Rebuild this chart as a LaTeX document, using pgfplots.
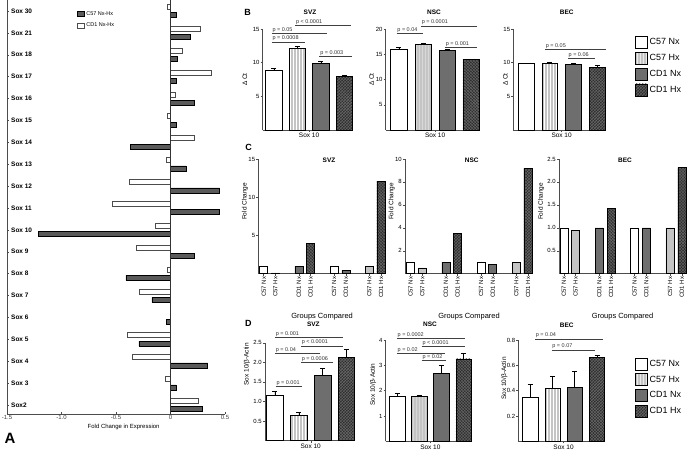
\documentclass[border=0pt]{standalone}
\usepackage{fontspec}
\setmainfont{Liberation Sans}
\usepackage{pgfplots}
\pgfplotsset{compat=1.18}
\usetikzlibrary{patterns}
\definecolor{cHx}{RGB}{196,196,196}
\definecolor{dNx}{RGB}{110,110,110}
\definecolor{dHx}{RGB}{45,45,45}
\definecolor{hatchc}{RGB}{105,105,105}
\definecolor{aDark}{RGB}{90,90,90}
\tikzset{
  s57nx/.style={fill=white, draw=black},
  s57hx/.style={fill=cHx, draw=black, postaction={pattern=vertical lines, pattern color=white}},
  s57hxp/.style={fill=cHx, draw=black},
  sCDnx/.style={fill=dNx, draw=black},
  sCDhx/.style={fill=dHx, draw=black, postaction={pattern=crosshatch, pattern color=hatchc}},
}
\pgfplotsset{
  base/.style={scale only axis, anchor=south west, axis x line*=bottom, axis y line*=left, clip=false,
    tick align=outside, major tick length=2bp,
    tick style={black!70, line width=0.4pt}, axis line style={black!70, line width=0.6pt},
    ticklabel style={font=\fontsize{6}{7}\selectfont, inner sep=1bp},
    label style={font=\fontsize{6.5}{7.5}\selectfont},
    every axis plot/.append style={line width=0.5pt}},
  bd/.style={base, xtick={2.5}, xticklabels={Sox 10}, ymin=0,
    xticklabel style={font=\fontsize{6.5}{7}\selectfont}},
  cp/.style={base, ymin=0, xtick={0,1,3,4,6,7,9,10},
    xticklabels={C57 Nx,C57 Hx,CD1 Nx,CD1 Hx,C57 Nx,CD1 Nx,C57 Hx,CD1 Hx},
    xticklabel style={rotate=90, anchor=east, font=\fontsize{6}{7}\selectfont},
    xlabel={Groups Compared}, xlabel style={at={(axis description cs:0.5,-0.375)}, anchor=center, font=\fontsize{7.5}{8}\selectfont},
    ylabel={Fold Change}},
  cbar/.style={ybar, bar width=8bp, bar shift=0pt},
  biglegend/.style={legend style={draw=none, fill=none, inner sep=0pt, row sep=3.4bp,
      font=\fontsize{9}{10}\selectfont, legend cell align=left},
    legend image code/.code={\draw[##1] (0bp,-6bp) rectangle (12bp,6bp);}},
}
\newcommand{\ebar}[4]{\addplot[ybar, bar width=#1, bar shift=0pt, #2, error bars/.cd, y dir=plus, y explicit,
  error bar style={black, line width=0.5pt}, error mark options={rotate=90, black, mark size=2.5bp, line width=0.5pt}]
  coordinates {#3 +- #4};}
\newcommand{\pline}[4]{\draw[black!75, line width=0.6pt] (axis cs:#1,#3) -- (axis cs:#2,#3)
  node[pos=0, anchor=south west, inner sep=0.6bp, font=\fontsize{5.5}{6}\selectfont, text=black!80] {#4};}
\begin{document}
\begin{tikzpicture}
\path[use as bounding box] (0bp,0bp) rectangle (689bp,451bp);

% ---------------- Panel A
\begin{axis}[base, at={(7bp,37bp)}, width=218bp, height=414bp,
  xmin=-1.5, xmax=0.5, ymin=-0.41, ymax=18.5, tick align=inside,
  xtick={-1.5,-1,-0.5,0,0.5}, xticklabels={-1.5,-1.0,-0.5,0,0.5},
  xticklabel style={text=black!75},
  ytick={0,...,18},
  yticklabels={Sox2,Sox 3,Sox 4,Sox 5,Sox 6,Sox 7,Sox 8,Sox 9,Sox 10,Sox 11,Sox 12,Sox 13,Sox 14,Sox 15,Sox 16,Sox 17,Sox 18,Sox 21,Sox 30},
  yticklabel style={anchor=west, xshift=3bp, font=\bfseries\fontsize{6.5}{7}\selectfont},
  xlabel={Fold Change in Expression}, xlabel style={at={(axis description cs:0.535,-0.031)}, anchor=center, font=\fontsize{6}{7}\selectfont},
  legend style={draw=none, fill=none, at={(axis description cs:0.321,0.978)}, anchor=north west, inner sep=0pt, row sep=2.5bp,
    font=\fontsize{5.5}{6.5}\selectfont, legend cell align=left},
  legend image code/.code={\draw[#1] (0bp,-2.6bp) rectangle (6.7bp,2.6bp);},
]
\addplot[xbar, bar width=5bp, bar shift=-4.2bp, fill=aDark, draw=black] coordinates {
 (0.29,0) (0.05,1) (0.34,2) (-0.29,3) (-0.04,4) (-0.17,5) (-0.41,6) (0.22,7) (-1.21,8) (0.45,9)
 (0.45,10) (0.14,11) (-0.37,12) (0.05,13) (0.22,14) (0.05,15) (0.06,16) (0.18,17) (0.05,18)};
\addplot[xbar, bar width=5bp, bar shift=4.2bp, fill=white, draw=black!70] coordinates {
 (0.25,0) (-0.05,1) (-0.35,2) (-0.40,3) (0,4) (-0.29,5) (-0.03,6) (-0.31,7) (-0.14,8) (-0.53,9)
 (-0.38,10) (-0.04,11) (0.22,12) (-0.03,13) (0.04,14) (0.37,15) (0.11,16) (0.27,17) (-0.03,18)};
\legend{C57 Nx-Hx, CD1 Nx-Hx}
\draw[black!80, line width=0.8pt] (axis cs:0,-0.41) -- (axis cs:0,18.5);
\end{axis}

% ---------------- Panel B
\begin{axis}[bd, at={(262.7bp,321bp)}, width=90.3bp, height=101bp, xmin=0.53, xmax=4.37, ymax=15,
  ytick={5,10,15}, yticklabels={5,10,15}, ylabel={Δ Ct}, ylabel style={at={(axis description cs:-0.196,0.5)}, anchor=center}]
\ebar{16.5bp}{s57nx}{(1,8.9)}{(0,0.3)}
\ebar{16.5bp}{s57hx}{(2,12.2)}{(0,0.3)}
\ebar{16.5bp}{sCDnx}{(3,9.95)}{(0,0.3)}
\ebar{16.5bp}{sCDhx}{(4,7.95)}{(0,0.15)}
\pline{1.91}{4.29}{15.5}{p < 0.0001}
\pline{0.91}{3.26}{14.37}{p = 0.05}
\pline{0.91}{2.33}{13.08}{p = 0.0008}
\pline{2.94}{4.32}{10.89}{p = 0.003}
\end{axis}

\begin{axis}[bd, at={(385.7bp,321bp)}, width=94.5bp, height=101bp, xmin=0.45, xmax=4.37, ymax=20,
  ytick={5,10,15,20}, yticklabels={5,10,15,20}, ylabel={Δ Ct}, ylabel style={at={(axis description cs:-0.15,0.5)}, anchor=center}]
\ebar{16.6bp}{s57nx}{(1,16.0)}{(0,0.3)}
\ebar{16.6bp}{s57hx}{(2,17.05)}{(0,0.2)}
\ebar{16.6bp}{sCDnx}{(3,15.7)}{(0,0.2)}
\ebar{16.6bp}{sCDhx}{(4,13.95)}{(0,0.1)}
\pline{0.9}{2.01}{19.07}{p = 0.04}
\pline{1.91}{4.24}{20.6}{p = 0.0001}
\pline{2.91}{4.22}{16.3}{p = 0.001}
\end{axis}

\begin{axis}[bd, biglegend, at={(513.3bp,321bp)}, width=92.8bp, height=101bp, xmin=0.47, xmax=4.37, ymax=15,
  ytick={5,10,15}, yticklabels={5,10,15}, ylabel={Δ Ct}, ylabel style={at={(axis description cs:-0.085,0.5)}, anchor=center},
  legend style={at={(axis description cs:1.311,0.934)}, anchor=north west}]
\ebar{15.8bp}{s57nx}{(1,9.85)}{(0,0.1)}
\ebar{15.8bp}{s57hx}{(2,9.95)}{(0,0.15)}
\ebar{15.8bp}{sCDnx}{(3,9.8)}{(0,0.1)}
\ebar{15.8bp}{sCDhx}{(4,9.3)}{(0,0.3)}
\legend{C57 Nx, C57 Hx, CD1 Nx, CD1 Hx}
\pline{1.8}{4.35}{11.99}{p = 0.05}
\pline{2.76}{3.9}{10.6}{p = 0.06}
\end{axis}

% ---------------- Panel C
\begin{axis}[cp, at={(258.3bp,177.3bp)}, width=127.7bp, height=114.7bp, xmin=-0.46, xmax=10.43, ymax=15,
  ytick={5,10,15}, yticklabels={5,10,15}, ylabel style={at={(axis description cs:-0.104,0.63)}, anchor=center}]
\addplot[cbar, s57nx] coordinates {(0,1) (6,1)};
\addplot[cbar, s57hxp] coordinates {(1,0.12) (9,1)};
\addplot[cbar, sCDnx] coordinates {(3,1) (7,0.45)};
\addplot[cbar, sCDhx] coordinates {(4,4.0) (10,12.1)};
\end{axis}

\begin{axis}[cp, at={(405bp,177.3bp)}, width=128bp, height=114.7bp, xmin=-0.47, xmax=10.43, ymax=10,
  ytick={2,4,6,8,10}, yticklabels={2,4,6,8,10}, ylabel style={at={(axis description cs:-0.104,0.63)}, anchor=center}]
\addplot[cbar, s57nx] coordinates {(0,1) (6,1)};
\addplot[cbar, s57hxp] coordinates {(1,0.5) (9,1)};
\addplot[cbar, sCDnx] coordinates {(3,1) (7,0.8)};
\addplot[cbar, sCDhx] coordinates {(4,3.5) (10,9.2)};
\end{axis}

\begin{axis}[cp, at={(559bp,177.3bp)}, width=127bp, height=114.7bp, xmin=-0.41, xmax=10.36, ymax=2.5,
  ytick={0.5,1,1.5,2,2.5}, yticklabels={0.5,1.0,1.5,2.0,2.5}, ylabel style={at={(axis description cs:-0.14,0.63)}, anchor=center}]
\addplot[cbar, s57nx] coordinates {(0,1) (6,1)};
\addplot[cbar, s57hxp] coordinates {(1,0.94) (9,1)};
\addplot[cbar, sCDnx] coordinates {(3,1) (7,1)};
\addplot[cbar, sCDhx] coordinates {(4,1.42) (10,2.31)};
\end{axis}

% ---------------- Panel D
\begin{axis}[bd, at={(265bp,10.4bp)}, width=90.2bp, height=97.9bp, xmin=0.58, xmax=4.37, ymax=2.5,
  ytick={0.5,1,1.5,2,2.5}, yticklabels={0.5,1.0,1.5,2.0,2.5}, ylabel={Sox 10/β-Actin},
  ylabel style={at={(axis description cs:-0.2,0.78)}, anchor=center}]
\ebar{16.5bp}{s57nx}{(1,1.17)}{(0,0.09)}
\ebar{16.5bp}{s57hx}{(2,0.66)}{(0,0.07)}
\ebar{16.5bp}{sCDnx}{(3,1.67)}{(0,0.19)}
\ebar{16.5bp}{sCDhx}{(4,2.13)}{(0,0.2)}
\pline{1.0}{3.87}{2.63}{p = 0.001}
\pline{2.09}{3.87}{2.42}{p < 0.0001}
\pline{1.0}{2.89}{2.23}{p = 0.04}
\pline{2.09}{3.42}{1.99}{p = 0.0006}
\pline{1.03}{2.12}{1.38}{p = 0.001}
\end{axis}

\begin{axis}[bd, at={(385.7bp,9.7bp)}, width=85.7bp, height=101.3bp, xmin=0.49, xmax=4.35, ymax=4,
  ytick={1,2,3,4}, yticklabels={1,2,3,4}, ylabel={Sox 10/β-Actin},
  ylabel style={at={(axis description cs:-0.145,0.56)}, anchor=center}]
\ebar{15.5bp}{s57nx}{(1,1.78)}{(0,0.1)}
\ebar{15.5bp}{s57hx}{(2,1.78)}{(0,0.04)}
\ebar{15.5bp}{sCDnx}{(3,2.7)}{(0,0.3)}
\ebar{15.5bp}{sCDhx}{(4,3.25)}{(0,0.22)}
\pline{0.99}{4.06}{4.07}{p = 0.0002}
\pline{2.11}{4.06}{3.76}{p < 0.0001}
\pline{0.99}{3.16}{3.47}{p = 0.02}
\pline{2.11}{3.2}{3.18}{p = 0.02}
\end{axis}

\begin{axis}[bd, biglegend, at={(518.3bp,9.7bp)}, width=86.5bp, height=101.3bp, xmin=0.47, xmax=4.35, ymax=0.8,
  ytick={0.2,0.4,0.6,0.8}, yticklabels={0.2,0.4,0.6,0.8}, ylabel={Sox 10/β-Actin},
  ylabel style={at={(axis description cs:-0.16,0.62)}, anchor=center},
  legend style={at={(axis description cs:1.349,0.829)}, anchor=north west}]
\ebar{15.3bp}{s57nx}{(1,0.35)}{(0,0.1)}
\ebar{15.3bp}{s57hx}{(2,0.42)}{(0,0.09)}
\ebar{15.3bp}{sCDnx}{(3,0.43)}{(0,0.12)}
\ebar{15.3bp}{sCDhx}{(4,0.66)}{(0,0.02)}
\legend{C57 Nx, C57 Hx, CD1 Nx, CD1 Hx}
\pline{1.22}{4.28}{0.808}{p = 0.04}
\pline{1.96}{3.9}{0.721}{p = 0.07}
\end{axis}

% ---------------- letters and titles
\node[font=\bfseries\fontsize{15}{15}\selectfont] at (10bp,12.5bp) {A};
\node[font=\bfseries\fontsize{9}{9}\selectfont] at (247.5bp,439bp) {B};
\node[font=\bfseries\fontsize{9}{9}\selectfont] at (248.5bp,303.5bp) {C};
\node[font=\bfseries\fontsize{9}{9}\selectfont] at (248.3bp,128bp) {D};
\begin{scope}[every node/.style={font=\bfseries\fontsize{6.5}{7}\selectfont}]
\node at (310bp,438.3bp) {SVZ};
\node at (434bp,438.3bp) {NSC};
\node at (566.7bp,438.3bp) {BEC};
\node at (329bp,290.3bp) {SVZ};
\node at (471.7bp,290.3bp) {NSC};
\node at (625bp,290.3bp) {BEC};
\node at (313.3bp,126.7bp) {SVZ};
\node at (430bp,126.7bp) {NSC};
\node at (566.7bp,126bp) {BEC};
\end{scope}
\end{tikzpicture}
\end{document}
